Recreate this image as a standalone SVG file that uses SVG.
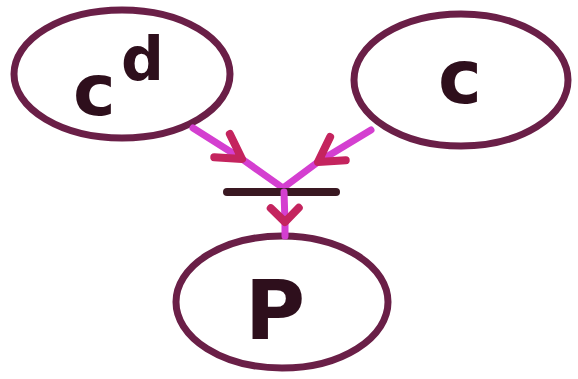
<svg xmlns="http://www.w3.org/2000/svg" width="578" height="379" viewBox="0 0 578 379">
<style>
.node ellipse{fill:none;stroke:#6a1f47;stroke-width:7}
.lbl{font-family:"DejaVu Sans",sans-serif;font-weight:bold;fill:#2e0f1c}
.edge{fill:none;stroke:#d43fd0;stroke-width:7;stroke-linecap:round;stroke-linejoin:round}
.bar{fill:none;stroke:#3a1822;stroke-width:8;stroke-linecap:round}
</style>
<defs>
<marker id="chev" viewBox="-30 -20 36 40" markerWidth="36" markerHeight="40" refX="0" refY="0" orient="auto" markerUnits="userSpaceOnUse" overflow="visible">
<path d="M-24,-14 L0,0 L-24,14" fill="none" stroke="#c4245e" stroke-width="8" stroke-linecap="round" stroke-linejoin="round"/>
</marker>
<marker id="chevs" viewBox="-30 -20 36 40" markerWidth="36" markerHeight="40" refX="0" refY="0" orient="auto" markerUnits="userSpaceOnUse" overflow="visible">
<path d="M-14,-14 L0,0 L-14,14" fill="none" stroke="#c4245e" stroke-width="8" stroke-linecap="round" stroke-linejoin="round"/>
</marker>
</defs>
<rect width="578" height="379" fill="#ffffff"/>
<g id="node-cd" class="node">
<ellipse cx="122" cy="74" rx="108" ry="64"/>
<text class="lbl" x="73" y="115" font-size="72">c</text>
<text class="lbl" x="121" y="80" font-size="60">d</text>
</g>
<g id="node-c" class="node">
<ellipse cx="461" cy="80" rx="107" ry="66"/>
<text class="lbl" x="438" y="103" font-size="74">c</text>
</g>
<g id="node-P" class="node">
<ellipse cx="282" cy="302" rx="106" ry="66"/>
<text class="lbl" x="245" y="339" font-size="82">P</text>
</g>
<g id="connectors">
<polyline class="edge" points="193,128 242,159 283,188" marker-mid="url(#chev)"/>
<polyline class="edge" points="371,130 318,162 283,188" marker-mid="url(#chev)"/>
<line class="bar" x1="227" y1="192" x2="336" y2="192"/>
<polyline class="edge" points="284,192 285,222 285,236" marker-mid="url(#chevs)"/>
</g>
</svg>
